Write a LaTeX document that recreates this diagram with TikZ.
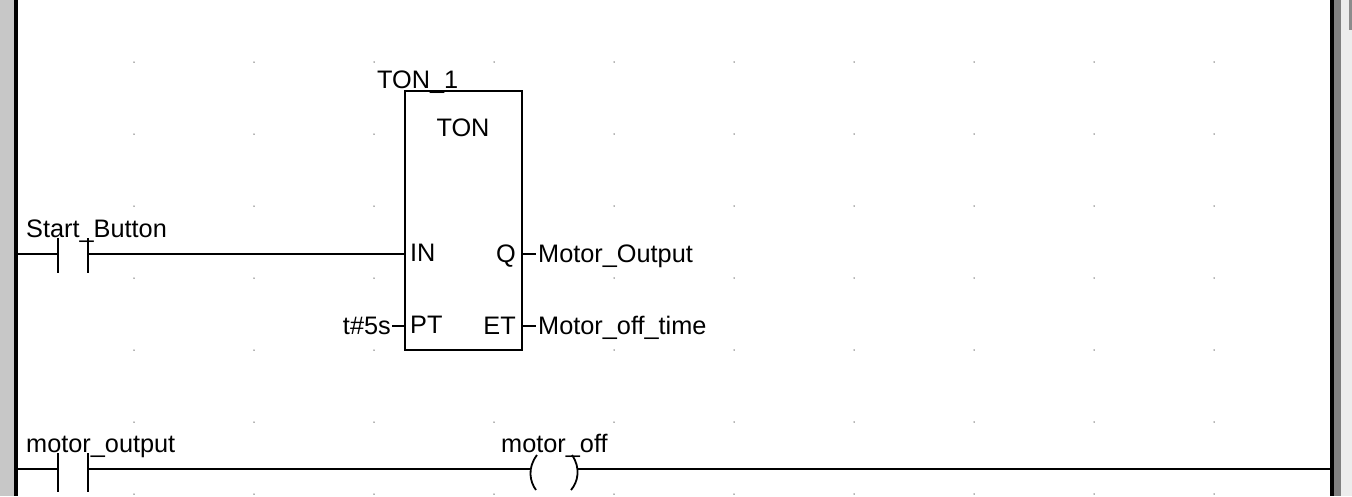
\documentclass[tikz,border=0pt]{standalone}
\usepackage{fontspec}
\setmainfont{Liberation Sans}
\begin{document}
\begin{tikzpicture}[x=1pt,y=-1pt,
  wire/.style={line width=1.8pt},
  lbl/.style={inner sep=0pt,font=\fontsize{25.3}{27}\selectfont},
  dot/.style={fill=black!60,inner sep=0pt,minimum size=1.5pt,circle}]
\useasboundingbox (0,0) rectangle (1352,496);
\fill[black!22] (0,0) rectangle (14,496);
\fill[black] (14,0) rectangle (18,496);
\fill[black] (1330,0) rectangle (1334,496);
\fill[black!50] (1334,0) rectangle (1341,496);
\fill[black!7] (1341,0) rectangle (1352,496);
\fill[black!45] (1349,0) rectangle (1352,30);
\foreach \i in {1,...,10} \foreach \j in {0,...,6}
  \node[dot] at (14+120*\i,62+72*\j) {};
\node[dot] at (494,-10) {};
% rung 1
\coordinate (L1) at (18,254);
\coordinate (c1a) at (58,254);
\coordinate (c1b) at (88,254);
\draw[wire] (L1) -- (c1a);
\draw[wire] (58,238) -- (58,273) (88,238) -- (88,273);
\node[draw,wire,fill=white,minimum width=117pt,minimum height=259pt,anchor=north west,inner sep=0pt] (ton) at (404,90) {};
\draw[wire] (c1b) -- (ton.west |- c1b);
\node[lbl,anchor=base west] (tonname) at (377,88) {TON\_1};
\node[lbl,anchor=base] (tontype) at (463,136) {TON};
\node[lbl,anchor=base west] (in) at (410,261) {IN};
\node[lbl,anchor=base west] (pt) at (410,333) {PT};
\node[lbl,anchor=base east] (q) at (516,262) {Q};
\node[lbl,anchor=base east] (et) at (516,334) {ET};
\coordinate (pte) at (392,326);
\draw[wire] (pte) -- (404,326);
\node[lbl,anchor=base east] (tv) at (391,334) {t\#5s};
\coordinate (qe) at (536,254);
\coordinate (ete) at (536,326);
\draw[wire] (521,254) -- (qe) (521,326) -- (ete);
\node[lbl,anchor=base west] (mo) at (538,262) {Motor\_Output};
\node[lbl,anchor=base west] (mot) at (538,334) {Motor\_off\_time};
\node[lbl,anchor=base west] (sb) at (26,237) {Start\_Button};
% rung 2
\node[lbl,anchor=base west] (mop) at (26,452) {motor\_output};
\draw[wire] (18,469) -- (58,469);
\draw[wire] (58,453) -- (58,492) (88,453) -- (88,492);
\draw[wire] (88,469) -- (530,469);
\draw[wire] (537,455) .. controls (527,468) and (530,482) .. (536,490);
\draw[wire] (572,455) .. controls (581,468) and (578,482) .. (571,490);
\draw[wire] (578,469) -- (1330,469);
\node[lbl,anchor=base west] (moff) at (501,452) {motor\_off};
\end{tikzpicture}
\end{document}
